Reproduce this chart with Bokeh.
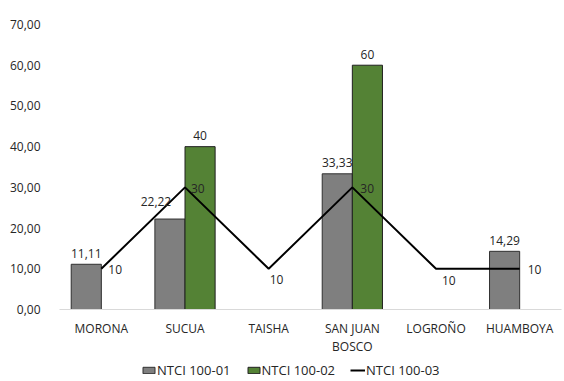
from bokeh.plotting import figure
from bokeh.layouts import column
from bokeh.models import (ColumnDataSource, Range1d, FixedTicker,
                          Legend, LegendItem, LinearAxis)
from bokeh.transform import dodge
from bokeh.core.properties import value
from bokeh.embed import file_html
from bokeh.resources import INLINE

# ---- data ----
categories = ["MORONA", "SUCUA", "TAISHA", "SAN JUAN BOSCO", "LOGROÑO", "HUAMBOYA"]
ntci_01 = [11.11, 22.22, None, 33.33, None, 14.29]
ntci_02 = [None, 40, None, 60, None, None]
ntci_03 = [10, 30, 10, 30, 10, 10]
series_names = ["NTCI 100-01", "NTCI 100-02", "NTCI 100-03"]
y_ticks = [0, 10, 20, 30, 40, 50, 60, 70]
y_tick_labels = ["0,00", "10,00", "20,00", "30,00", "40,00", "50,00", "60,00", "70,00"]
label_line1 = ["MORONA", "SUCUA", "TAISHA", "SAN JUAN", "LOGROÑO", "HUAMBOYA"]
label_line2 = ["", "", "", "BOSCO", "", ""]

# ---- styling (label placement, pixels) ----
lab1_dx = [0, -14, 0, 0, 0, 0]
lab1_dy = [-11, -18, -11, -11, -11, -11]
lab3_dx = [7, 6, 1, 8, 6, 8]
lab3_dy = [1, 1, 11, 1, 12, 1]

FONT = "Open Sans"
GRAY = "#7f7f7f"
GREEN = "#548235"
TXT = "#262626"


def fmt(v):
    if float(v).is_integer():
        return str(int(v))
    return f"{v:.2f}".replace(".", ",")


# category positions on a numeric scale (one unit per category)
xpos = [i + 0.5 for i in range(len(categories))]

p = figure(x_range=Range1d(0, len(categories)), y_range=Range1d(0, 70),
           width=564, height=360, output_backend="svg", toolbar_location=None,
           x_axis_type=None,
           min_border_left=59, min_border_right=3, min_border_top=24,
           min_border_bottom=51)
p.outline_line_color = None
p.xgrid.visible = False
p.ygrid.visible = False
p.background_fill_color = "white"
p.border_fill_color = "white"

src1 = ColumnDataSource(dict(
    x=[x for x, v in zip(xpos, ntci_01) if v is not None],
    val=[v for v in ntci_01 if v is not None],
    lab=[fmt(v) for v in ntci_01 if v is not None],
    dx=[d for d, v in zip(lab1_dx, ntci_01) if v is not None],
    dy=[d for d, v in zip(lab1_dy, ntci_01) if v is not None]))
src2 = ColumnDataSource(dict(
    x=[x for x, v in zip(xpos, ntci_02) if v is not None],
    val=[v for v in ntci_02 if v is not None],
    lab=[fmt(v) for v in ntci_02 if v is not None]))
src3 = ColumnDataSource(dict(x=xpos, val=ntci_03,
                             lab=[fmt(v) for v in ntci_03],
                             dx=lab3_dx, dy=lab3_dy))

bar_style1 = dict(fill_color=GRAY, line_color="#303030", line_width=1)
bar_style2 = dict(fill_color=GREEN, line_color="#202020", line_width=1)
line_style3 = dict(line_color="black", line_width=2)

p.vbar(x=dodge("x", -0.18), top="val", width=0.36, source=src1, **bar_style1)
p.vbar(x=dodge("x", 0.18), top="val", width=0.36, source=src2, **bar_style2)
p.line(x="x", y="val", source=src3, **line_style3)

# data labels
p.text(x=dodge("x", -0.18), y="val", text="lab", source=src1,
       x_offset="dx", y_offset="dy", text_align="center", text_baseline="middle",
       text_font=value(FONT), text_font_size="12px", text_color=TXT)
p.text(x=dodge("x", 0.18), y="val", text="lab", source=src2,
       y_offset=-11, text_align="center", text_baseline="middle",
       text_font=value(FONT), text_font_size="12px", text_color=TXT)
p.text(x="x", y="val", text="lab", source=src3,
       x_offset="dx", y_offset="dy", text_align="left", text_baseline="middle",
       text_font=value(FONT), text_font_size="12px", text_color=TXT)

# y axis
p.yaxis.ticker = FixedTicker(ticks=y_ticks)
p.yaxis.major_label_overrides = dict(zip(y_ticks, y_tick_labels))
p.yaxis.axis_line_color = None
p.yaxis.major_tick_line_color = None
p.yaxis.minor_tick_line_color = None
p.yaxis.major_label_standoff = 13
p.yaxis.major_label_text_font = FONT
p.yaxis.major_label_text_font_size = "12px"
p.yaxis.major_label_text_color = TXT

# x axes: two stacked axes give the two lines of the category labels
common = dict(ticker=FixedTicker(ticks=xpos), major_tick_line_color=None,
              minor_tick_line_color=None, major_tick_out=0, minor_tick_out=0,
              major_label_orientation="horizontal",
              major_label_text_font=FONT, major_label_text_font_size="12px",
              major_label_text_color=TXT)
ax1 = LinearAxis(major_label_overrides=dict(zip(xpos, label_line1)),
                 axis_line_color="#d9d9d9", major_label_standoff=10, **common)
ax2 = LinearAxis(major_label_overrides=dict(zip(xpos, label_line2)),
                 axis_line_color=None, major_label_standoff=-2, **common)
p.add_layout(ax1, "below")
p.add_layout(ax2, "below")

# legend strip (own small figure, same glyph styles; its renderers are hidden)
lg = figure(x_range=Range1d(0, 1), y_range=Range1d(0, 1), width=564, height=21,
            output_backend="svg", toolbar_location=None,
            x_axis_type=None, y_axis_type=None, min_border=0)
lg.outline_line_color = None
lg.xgrid.visible = False
lg.ygrid.visible = False
r1 = lg.vbar(x="x", top="val", width=0.1, source=src1, visible=False, **bar_style1)
r2 = lg.vbar(x="x", top="val", width=0.1, source=src2, visible=False, **bar_style2)
r3 = lg.line(x="x", y="val", source=src3, visible=False, **line_style3)
legend = Legend(items=[LegendItem(label=series_names[0], renderers=[r1]),
                       LegendItem(label=series_names[1], renderers=[r2]),
                       LegendItem(label=series_names[2], renderers=[r3])],
                orientation="horizontal", location=(82, 2),
                glyph_width=15, glyph_height=8, label_height=8,
                label_standoff=1, spacing=15, padding=0, margin=0,
                inactive_fill_alpha=0,
                border_line_color=None, background_fill_alpha=0,
                label_text_font=FONT, label_text_font_size="13px",
                label_text_color=TXT)
lg.add_layout(legend, "center")

open("out.html", "w").write(file_html(column(p, lg, spacing=0), INLINE))
